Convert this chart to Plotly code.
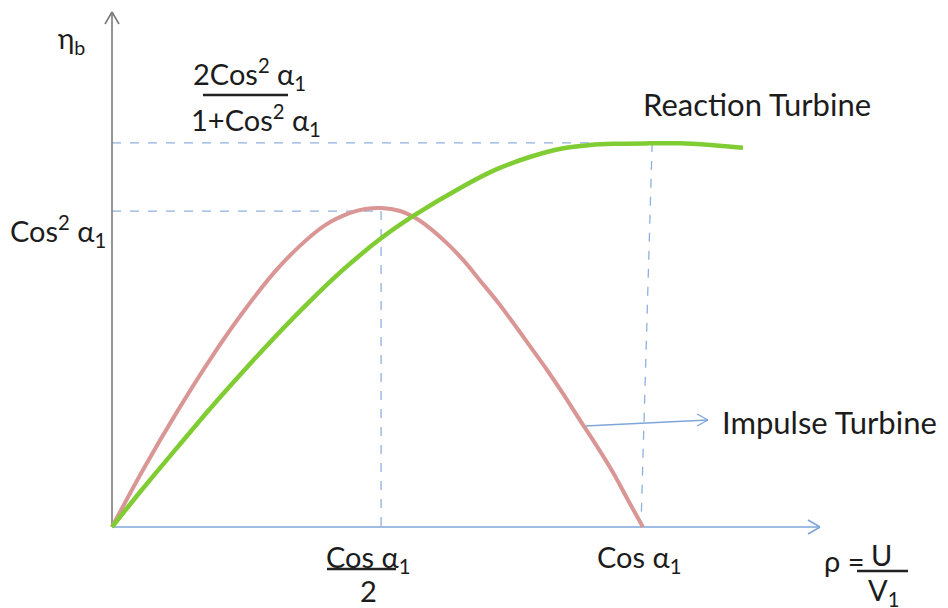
import plotly.graph_objects as go

# ---------------- data ----------------
# rho = U/V1 values and blade efficiency eta_b values
impulse_rho = [0.0, 0.047, 0.099, 0.149, 0.199, 0.248, 0.286, 0.324, 0.362,
               0.385, 0.409, 0.438, 0.458, 0.483, 0.509, 0.534, 0.559, 0.585,
               0.610, 0.635, 0.661, 0.686, 0.711, 0.737, 0.762, 0.784, 0.807]
impulse_eta = [0.0, 0.117, 0.237, 0.344, 0.441, 0.525, 0.578, 0.620, 0.645,
               0.653, 0.655, 0.649, 0.637, 0.614, 0.583, 0.548, 0.507, 0.464,
               0.419, 0.372, 0.323, 0.273, 0.220, 0.166, 0.111, 0.056, 0.0]

reaction_rho = [0.0, 0.047, 0.099, 0.149, 0.199, 0.251, 0.301, 0.351, 0.407,
                0.458, 0.534, 0.585, 0.635, 0.686, 0.727, 0.762, 0.818, 0.863,
                0.914, 0.959]
reaction_eta = [0.0, 0.079, 0.163, 0.243, 0.319, 0.395, 0.464, 0.528, 0.591,
                0.639, 0.700, 0.735, 0.760, 0.778, 0.7845, 0.787, 0.788, 0.788,
                0.784, 0.779]

# guide values
impulse_peak = (0.409, 0.649)      # (cos a1 / 2 , cos^2 a1)
reaction_peak_eta = 0.789          # 2cos^2 a1 / (1+cos^2 a1)
cos_a1 = 0.807
reaction_peak_rho = 0.821

# ---------------- layout helpers (pixel -> data) ----------------
W, H = 948, 608
OX, OY = 112, 527
XPX, YPX = 0.00152, 0.002054


def X(px):
    return (px - OX) * XPX


def Y(py):
    return (OY - py) * YPX


FONT = "Lato, 'Open Sans', 'Noto Sans', sans-serif"
TXT = "#1c1c1c"
DASH = "#8FB0DE"
XAX = "#7FA6D9"
YAX = "#7a7a7a"

fig = go.Figure()

fig.add_trace(go.Scatter(x=impulse_rho, y=impulse_eta, mode="lines",
                         line=dict(color="#D99694", width=4, shape="spline", smoothing=1),
                         hoverinfo="skip", showlegend=False))
fig.add_trace(go.Scatter(x=reaction_rho, y=reaction_eta, mode="lines",
                         line=dict(color="#80CC33", width=4.5, shape="spline", smoothing=1),
                         hoverinfo="skip", showlegend=False))

shapes = []


def seg(x0, y0, x1, y1, color, width=1.3, dash=None):
    shapes.append(dict(type="line", x0=x0, y0=y0, x1=x1, y1=y1, xref="x", yref="y",
                       line=dict(color=color, width=width, dash=dash), layer="below"))


# dashed guides
seg(0, reaction_peak_eta, reaction_peak_rho, reaction_peak_eta, DASH, 1.3, "dash")
seg(reaction_peak_rho, reaction_peak_eta, cos_a1 - 0.003, 0, DASH, 1.3, "dash")
seg(0, impulse_peak[1], impulse_peak[0], impulse_peak[1], DASH, 1.3, "dash")
seg(impulse_peak[0], impulse_peak[1], impulse_peak[0], 0, DASH, 1.3, "dash")

# axes with open arrow heads
seg(0, 0, X(820), 0, XAX, 1.6)
seg(X(820), 0, X(808), Y(520), XAX, 1.6)
seg(X(820), 0, X(808), Y(534), XAX, 1.6)
seg(0, 0, 0, Y(12), YAX, 1.6)
seg(0, Y(12), X(105), Y(24), YAX, 1.6)
seg(0, Y(12), X(119), Y(24), YAX, 1.6)

# impulse pointer arrow
seg(X(585), Y(426), X(708), Y(420), XAX, 1.3)
seg(X(708), Y(420), X(697), Y(414), XAX, 1.3)
seg(X(708), Y(420), X(697), Y(426), XAX, 1.3)

# fraction bars / underline
seg(X(203), Y(95), X(288), Y(95), "#222222", 2.4)
seg(X(327), Y(569), X(396), Y(569), "#222222", 2.4)
seg(X(857), Y(571), X(908), Y(571), "#222222", 2.4)

ann = []


def text(s, px, py, size=30, xanchor="center"):
    ann.append(dict(text=s, x=X(px), y=Y(py), xref="x", yref="y", showarrow=False,
                    xanchor=xanchor, yanchor="middle",
                    font=dict(family=FONT, size=size, color=TXT)))


text("η<sub>b</sub>", 56, 40, 28, "left")
text("2Cos<sup>2</sup> α<sub>1</sub>", 191, 74, 29, "left")
text("1+Cos<sup>2</sup> α<sub>1</sub>", 189, 120, 29, "left")
text("Cos<sup>2</sup> α<sub>1</sub>", 8, 231, 29, "left")
text("Cos α<sub>1</sub>", 324, 558, 29, "left")
text("2", 368, 590, 29)
text("Cos α<sub>1</sub>", 595, 558, 29, "left")
text("ρ =", 822, 560, 29, "left")
text("U", 881, 554, 29)
text("V<sub>1</sub>", 866, 591, 29, "left")
text("Reaction Turbine", 641, 104, 31, "left")
text("Impulse Turbine", 720, 422, 31, "left")

fig.update_layout(
    width=W, height=H,
    margin=dict(l=0, r=0, t=0, b=0),
    paper_bgcolor="white", plot_bgcolor="white",
    xaxis=dict(range=[X(0), X(W)], visible=False, fixedrange=True),
    yaxis=dict(range=[Y(H), Y(0)], visible=False, fixedrange=True),
    shapes=shapes, annotations=ann, showlegend=False,
)

fig.write_html("out.html", config={"displayModeBar": False},
               post_script="document.body.style.margin='0';document.body.style.overflow='hidden';")
